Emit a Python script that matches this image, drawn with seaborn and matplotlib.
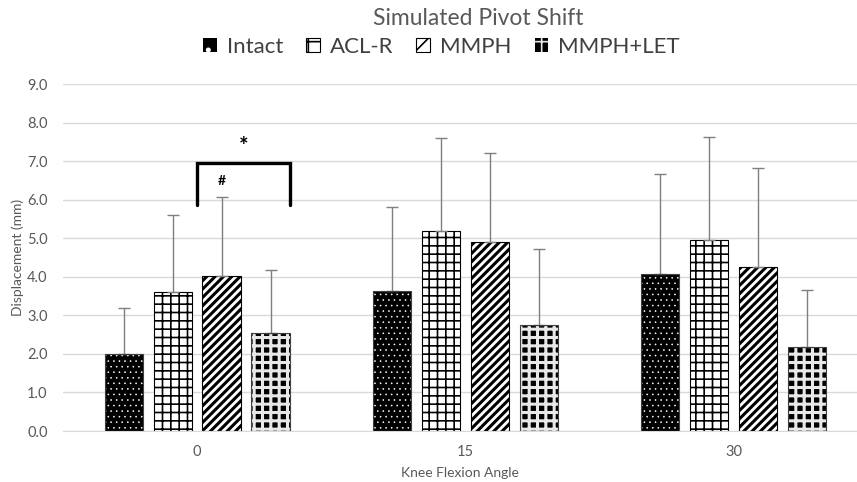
import pandas as pd
import matplotlib
matplotlib.use("Agg")
import matplotlib.pyplot as plt
import seaborn as sns
from matplotlib.patches import Patch, Rectangle

# data
angles = ["0", "15", "30"]
groups = ["Intact", "ACL-R", "MMPH", "MMPH+LET"]
intact_mean = [2.00, 3.64, 4.06]
aclr_mean = [3.61, 5.20, 4.96]
mmph_mean = [4.03, 4.91, 4.26]
let_mean = [2.55, 2.75, 2.18]
intact_sd = [1.20, 2.18, 2.61]
aclr_sd = [2.00, 2.40, 2.67]
mmph_sd = [2.05, 2.29, 2.57]
let_sd = [1.63, 1.98, 1.49]

means = [intact_mean, aclr_mean, mmph_mean, let_mean]
sds = [intact_sd, aclr_sd, mmph_sd, let_sd]

rows = []
for g, m in zip(groups, means):
    for a, v in zip(angles, m):
        rows.append({"angle": a, "group": g, "mean": v})
df = pd.DataFrame(rows)

sns.set_style("white")
plt.rcParams["font.family"] = ["Lato", "DejaVu Sans"]
plt.rcParams["hatch.linewidth"] = 1.2

# styles per group: face, hatch, hatch colour, edge width, hatch width
styles = {
    "Intact": dict(face="black", hatch="...", hcolor="white", lw=0, hlw=0.4),
    "ACL-R": dict(face="white", hatch="++", hcolor="black", lw=0.8, hlw=1.2),
    "MMPH": dict(face="white", hatch="////", hcolor="black", lw=0.8, hlw=2.2),
    "MMPH+LET": dict(face="black", hatch="++", hcolor="#e8e8e8", lw=0, hlw=2.2),
}

fig = plt.figure(figsize=(8.57, 4.82), dpi=100)
ax = fig.add_axes([0.0735, 0.1058, 0.9265, 0.7199])

sns.barplot(data=df, x="angle", y="mean", hue="group", order=angles,
            hue_order=groups, width=0.73, gap=0.22, errorbar=None,
            palette=["black", "white", "white", "white"], legend=False, ax=ax)

for g, cont, sd in zip(groups, ax.containers, sds):
    st = styles[g]
    xs, hs = [], []
    for bar in cont:
        bar.set_facecolor(st["face"])
        bar.set_edgecolor(st["hcolor"])
        bar.set_hatch(st["hatch"])
        bar.set_linewidth(st["lw"])
        if hasattr(bar, "set_hatch_linewidth"):
            bar.set_hatch_linewidth(st["hlw"])
        if st["lw"] == 0:
            # thin outline on top of the hatched bar
            ax.add_patch(Rectangle(bar.get_xy(), bar.get_width(),
                                   bar.get_height(), fill=False,
                                   edgecolor="#404040", linewidth=0.8,
                                   zorder=bar.get_zorder() + 0.1))
        xs.append(bar.get_x() + bar.get_width() / 2)
        hs.append(bar.get_height())
    ax.errorbar(xs, hs, yerr=[[0] * len(sd), sd], fmt="none",
                ecolor="#7f7f7f", elinewidth=1, capsize=4, capthick=1,
                zorder=1)

ax.set_ylim(0, 9)
ax.set_xlim(-0.5, 2.46)
ax.set_yticks([i for i in range(10)])
ax.set_yticklabels([f"{i:.1f}" for i in range(10)])
ax.yaxis.grid(True, color="#d9d9d9", linewidth=1)
ax.set_axisbelow(True)
for s in ["top", "right", "left"]:
    ax.spines[s].set_visible(False)
ax.spines["bottom"].set_color("#d9d9d9")
ax.tick_params(axis="both", length=0, labelsize=10.5, colors="#595959")
ax.tick_params(axis="x", pad=10)
ax.tick_params(axis="y", pad=11)
ax.set_xlabel("Knee Flexion Angle", fontsize=10, color="#595959", labelpad=6)
ax.set_ylabel("Displacement (mm)", fontsize=10, color="#595959", labelpad=2)

# significance bracket at 0 deg
c_acl = ax.containers[1][0]
c_mmph = ax.containers[2][0]
c_let = ax.containers[3][0]
x_left = (c_acl.get_x() + c_acl.get_width() + c_mmph.get_x()) / 2
x_right = c_let.get_x() + c_let.get_width()
ax.plot([x_left, x_left, x_right, x_right], [5.87, 6.95, 6.95, 5.87],
        color="black", linewidth=2.4, solid_joinstyle="miter", clip_on=False)
ax.text((x_left + x_right) / 2, 7.1, "*", ha="center", va="bottom",
        fontsize=16, fontweight="bold", color="black")
ax.text(c_mmph.get_x() + c_mmph.get_width() / 2, 6.48, "#", ha="center",
        va="center", fontsize=10, fontweight="bold", color="black")

fig.text(0.558, 0.962, "Simulated Pivot Shift", ha="center", va="center",
         fontsize=16.5, color="#595959")

handles = []
for g in groups:
    st = styles[g]
    handles.append(Patch(facecolor=st["face"], edgecolor=st["hcolor"],
                         hatch=st["hatch"][:len(st["hatch"]) // 2],
                         linewidth=st["lw"], label=g))
fig.legend(handles=handles, loc="center", ncol=4,
           bbox_to_anchor=(0.515, 0.902), frameon=False, fontsize=16,
           handlelength=0.6, handleheight=0.6, handletextpad=0.45,
           columnspacing=1.05, labelcolor="#404040")

fig.savefig("out.png", dpi=100)
